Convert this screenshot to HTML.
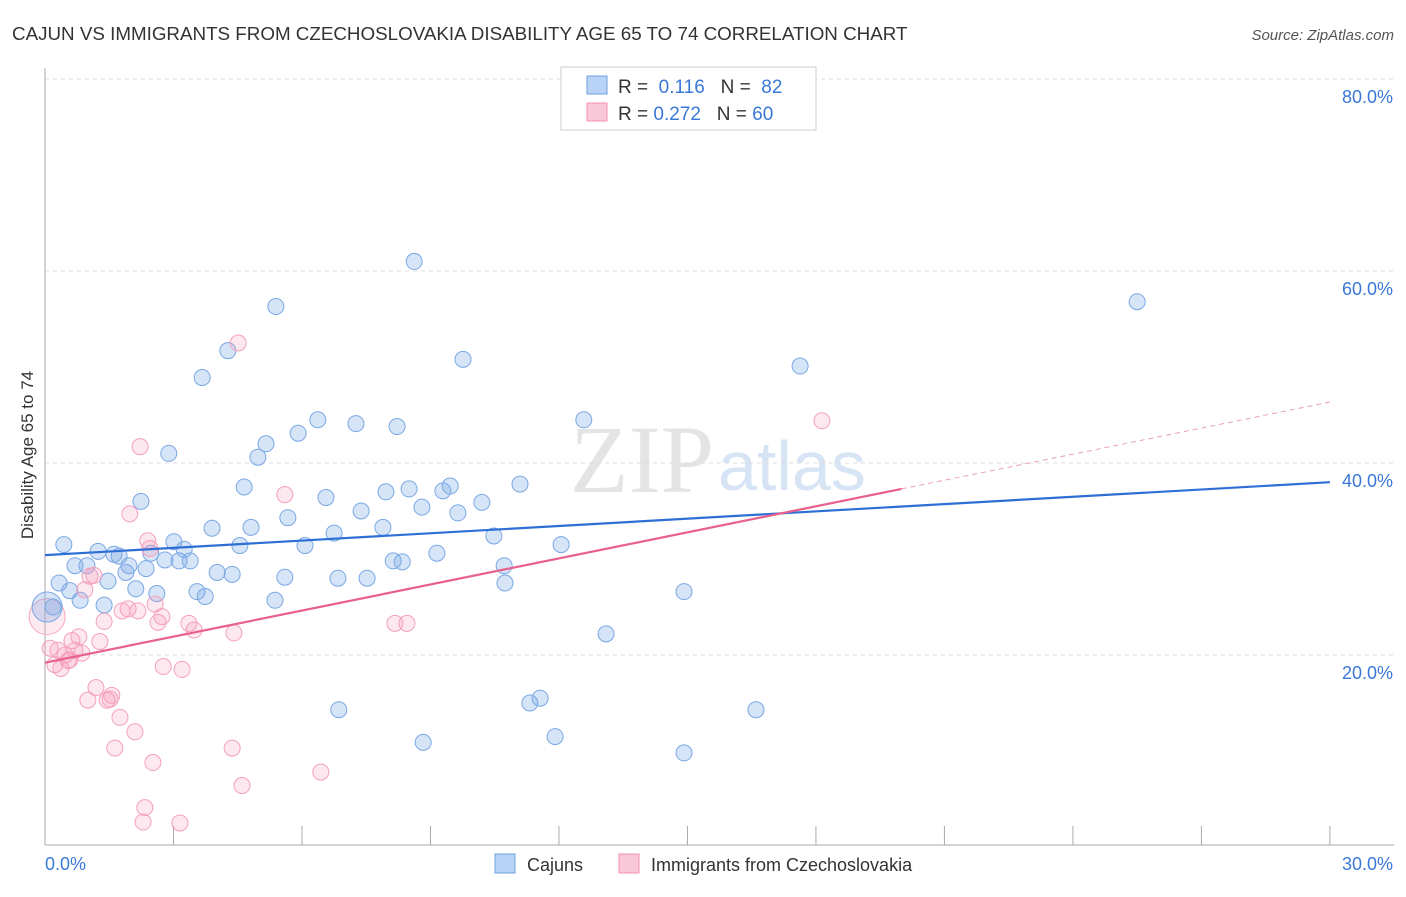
<!DOCTYPE html>
<html><head><meta charset="utf-8"><style>
body{margin:0;background:#fff;}
</style></head><body>
<svg id="chart" width="1406" height="892" xmlns="http://www.w3.org/2000/svg" font-family="Liberation Sans, sans-serif">
<text x="12" y="40" font-size="18.8" fill="#333">CAJUN VS IMMIGRANTS FROM CZECHOSLOVAKIA DISABILITY AGE 65 TO 74 CORRELATION CHART</text>
<text x="1394" y="40" font-size="15" fill="#555" font-style="italic" text-anchor="end">Source: ZipAtlas.com</text>
<text transform="translate(33,455) rotate(-90)" font-size="17" fill="#333" text-anchor="middle">Disability Age 65 to 74</text>
<text x="714" y="492" font-size="96" fill="#e4e4e4" style="font-family:'Liberation Serif',serif" text-anchor="end">ZIP</text>
<text x="718" y="490" font-size="70" fill="#d6e4f5">atlas</text>
<g id="grid"></g><g id="axes"></g><g id="pts"></g><g id="lines"></g>
<g>
<rect x="561" y="67" width="255" height="63" fill="#fff" stroke="#ccc"/>
<rect x="587" y="76" width="20" height="18" fill="#b8d3f5" stroke="#6fa0e0"/>
<text x="618" y="93" font-size="19" fill="#333">R = <tspan fill="#3a78d8">&#160;0.116</tspan>&#160;&#160;&#160;N = <tspan fill="#3a78d8">&#160;82</tspan></text>
<rect x="587" y="103" width="20" height="18" fill="#f8c8d8" stroke="#f08fb0"/>
<text x="618" y="120" font-size="19" fill="#333">R = <tspan fill="#3a78d8">0.272</tspan>&#160;&#160;&#160;N = <tspan fill="#3a78d8">60</tspan></text>
</g>
<g>
<rect x="495" y="854" width="20" height="19" fill="#b8d3f5" stroke="#6fa0e0"/>
<text x="527" y="871" font-size="18" fill="#333">Cajuns</text>
<rect x="619" y="854" width="20" height="19" fill="#f8c8d8" stroke="#f08fb0"/>
<text x="651" y="871" font-size="18" fill="#333">Immigrants from Czechoslovakia</text>
</g>
</svg>
<script>
const blueX=[0.19,0.33,0.44,0.58,0.70,0.82,0.98,1.24,1.38,1.47,1.61,1.73,1.89,1.96,2.12,2.24,2.36,2.47,2.61,2.80,2.89,3.01,3.13,3.25,3.39,3.55,3.67,3.74,3.90,4.02,4.27,4.37,4.55,4.65,4.81,4.97,5.16,5.37,5.39,5.60,5.67,5.91,6.07,6.37,6.56,6.75,6.86,6.84,7.26,7.38,7.52,7.89,7.96,8.13,8.22,8.34,8.50,8.62,8.83,8.80,9.15,9.29,9.46,9.64,9.76,10.20,10.48,10.72,10.74,11.09,11.32,11.56,11.91,12.05,12.58,13.10,14.92,14.92,16.60,17.63,25.50];
const blueY=[25.0,27.5,31.5,26.7,29.3,25.7,29.3,30.8,25.2,27.7,30.5,30.3,28.6,29.3,26.9,36.0,29.0,30.6,26.4,29.9,41.0,31.8,29.8,31.0,29.8,26.6,48.9,26.1,33.2,28.6,51.7,28.4,31.4,37.5,33.3,40.6,42.0,25.7,56.3,28.1,34.3,43.1,31.4,44.5,36.4,32.7,14.3,28.0,44.1,35.0,28.0,33.3,37.0,29.8,43.8,29.7,37.3,61.0,10.9,35.4,30.6,37.1,37.6,34.8,50.8,35.9,32.4,29.3,27.5,37.8,15.0,15.5,11.5,31.5,44.5,22.2,9.8,26.6,14.3,50.1,56.8];
const pinkX=[0.12,0.23,0.30,0.37,0.47,0.54,0.58,0.63,0.70,0.79,0.86,0.93,1.00,1.05,1.14,1.19,1.28,1.38,1.45,1.52,1.56,1.63,1.75,1.80,1.94,1.98,2.10,2.17,2.22,2.29,2.33,2.40,2.45,2.52,2.57,2.64,2.73,2.76,3.15,3.20,3.36,3.48,4.37,4.41,4.51,4.60,5.60,6.44,8.17,8.45,18.14];
const pinkY=[20.7,19.0,20.5,18.6,20.0,19.4,19.5,21.5,20.5,21.9,20.2,26.8,15.3,28.2,28.3,16.6,21.4,23.5,15.3,15.4,15.8,10.3,13.5,24.6,24.8,34.7,12.0,24.6,41.7,2.6,4.1,31.9,31.1,8.8,25.3,23.4,24.0,18.8,2.5,18.5,23.3,22.6,10.3,22.3,52.5,6.4,36.7,7.8,23.3,23.3,44.4];
const yTicks=[20,40,60,80];
const xTickLabels=["0.0%","30.0%"];
const blueLine=[30.4,38.0];
const pinkLine=[19.2,37.3,46.35];
const NS="http://www.w3.org/2000/svg";
const sx=v=>45+v*42.83, sy=v=>847-v*9.6;
function mk(t,a,p){const e=document.createElementNS(NS,t);for(const k in a)e.setAttribute(k,a[k]);document.getElementById(p).appendChild(e);return e;}
yTicks.forEach(t=>{
 const l=mk('line',{x1:45,x2:1394,y1:sy(t),y2:sy(t),stroke:'#ddd','stroke-dasharray':'4,4'},'grid');
 
 
 const tx=mk('text',{x:1393,y:sy(t)+24,'font-size':18,fill:'#3a78d8','text-anchor':'end'},'grid');tx.textContent=t.toFixed(1)+'%';
 
 
});
mk('line',{x1:45,x2:45,y1:68,y2:845,stroke:'#aaa'},'axes');
mk('line',{x1:45,x2:1394,y1:845,y2:845,stroke:'#aaa'},'axes');
for(let i=0;i<=10;i++){const t=mk('line',{x1:sx(i*3),x2:sx(i*3),y1:826,y2:845,stroke:'#aaa'},'axes');
 
 }
[[0,45,'start'],[30,1393,'end']].forEach((d,i)=>{const t=mk('text',{x:d[1],y:870,'font-size':18,fill:'#3a78d8','text-anchor':d[2]},'axes');t.textContent=xTickLabels[i];
 
 });
function pt(x,y,r,f,s,n){const c=mk('circle',{cx:sx(x),cy:sy(y),r:r,fill:f,stroke:s,'stroke-width':1},'pts');
 
 }
pt(0.05,24,18,'rgba(245,150,180,0.2)','#f4a8c0','pink-cluster-point');
pt(0.05,25,15,'rgba(120,165,230,0.3)','#7aa8e4','blue-cluster-point');
blueX.forEach((x,i)=>pt(x,blueY[i],8,'rgba(120,165,230,0.3)','#7aa8e4','cajun-point'));
pinkX.forEach((x,i)=>pt(x,pinkY[i],8,'rgba(245,150,180,0.22)','#f4a0bc','czech-point'));
const bl=mk('line',{x1:sx(0),y1:sy(blueLine[0]),x2:sx(30),y2:sy(blueLine[1]),stroke:'#2e6fd6','stroke-width':2.2},'lines');


const pl=mk('line',{x1:sx(0),y1:sy(pinkLine[0]),x2:sx(20),y2:sy(pinkLine[1]),stroke:'#e8608e','stroke-width':2.2},'lines');


const pd=mk('line',{x1:sx(20),y1:sy(pinkLine[1]),x2:sx(30),y2:sy(pinkLine[2]),stroke:'#e8a0b8','stroke-width':1,'stroke-dasharray':'5,4'},'lines');


</script>
</body></html>
